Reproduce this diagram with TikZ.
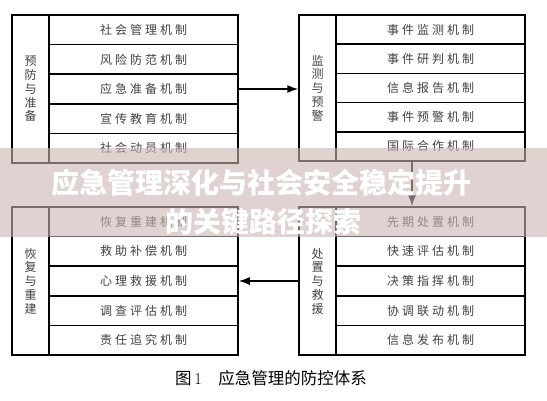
\documentclass[tikz,border=0pt]{standalone}
\usepackage{fontspec}
\usetikzlibrary{arrows.meta}
\newfontfamily\hei{Noto Sans CJK SC}
\newfontfamily\heisp[LetterSpace=25]{Noto Sans CJK SC}
\definecolor{veil}{RGB}{205,180,180}

\tikzset{
  frame/.style={draw, line width=1.5pt, inner sep=0pt},
  mech/.style={frame, minimum width=189pt, minimum height=29.6pt,
    font=\heisp\fontsize{12}{12}\selectfont, text=black!75},
  stage/.style={frame, minimum width=37pt, align=center,
    font=\hei\fontsize{12}{13.75}\selectfont, text=black!75},
  arr/.style={line width=1.5pt, -{Latex[length=11pt,width=8pt]}},
  headline/.style={font=\hei\bfseries\fontsize{28}{28}\selectfont, text=white},
}

\begin{document}
\begin{tikzpicture}[x=1pt,y=-1pt]
\useasboundingbox (0,0) rectangle (547,400);

% 预防与准备
\node[frame, minimum width=226pt, minimum height=148pt] (yf) at (125,89) {};
\node[stage, minimum height=148pt] (yfl) at (30.5,89) {预\\防\\与\\准\\备};
\foreach \y/\ytext in {1/社会管理机制, 2/风险防范机制, 3/应急准备机制, 4/宣传教育机制, 5/社会动员机制}
{
    \node[mech] (yf\y) at (143.5,0.2+29.6*\y) {\ytext};
}

% 监测与预警
\node[frame, minimum width=226pt, minimum height=146pt] (jc) at (412,88) {};
\node[stage, minimum height=146pt] (jcl) at (317.5,88) {监\\测\\与\\预\\警};
\foreach \y/\ytext in {1/事件监测机制, 2/事件研判机制, 3/信息报告机制, 4/事件预警机制, 5/国际合作机制}
{
    \node[mech, minimum height=29.2pt] (jc\y) at (430.5,0.4+29.2*\y) {\ytext};
}

% 恢复与重建
\node[frame, minimum width=226pt, minimum height=148pt] (hf) at (125,281) {};
\node[stage, minimum height=148pt] (hfl) at (30.5,281) {恢\\复\\与\\重\\建};
\foreach \y/\ytext in {1/恢复重建机制, 2/救助补偿机制, 3/心理救援机制, 4/调查评估机制, 5/责任追究机制}
{
    \node[mech] (hf\y) at (143.5,192.2+29.6*\y) {\ytext};
}

% 处置与救援
\node[frame, minimum width=226pt, minimum height=148pt] (cz) at (412,281) {};
\node[stage, minimum height=148pt] (czl) at (317.5,281) {处\\置\\与\\救\\援};
\foreach \y/\ytext in {1/先期处置机制, 2/快速评估机制, 3/决策指挥机制, 4/协调联动机制, 5/信息发布机制}
{
    \node[mech] (cz\y) at (430.5,192.2+29.6*\y) {\ytext};
}

\draw[arr] (yf3.east) -- (yf3.east -| jc.west);
\draw[arr] (jc.south) -- (cz.north);
\draw[arr] (cz.west |- hf3.east) -- (hf3.east);

\node[font=\hei\fontsize{16.5}{16.5}\selectfont] (cap) at (271,378) {图\,{\rmfamily 1}\quad 应急管理的防控体系};

% banner
\fill[veil, opacity=0.6] (0,148) rectangle (547,237);
\node[headline] (tt1) at (262,183) {应急管理深化与社会安全稳定提升};
\node[headline] (tt2) at (263,222) {的关键路径探索};
\end{tikzpicture}
\end{document}
